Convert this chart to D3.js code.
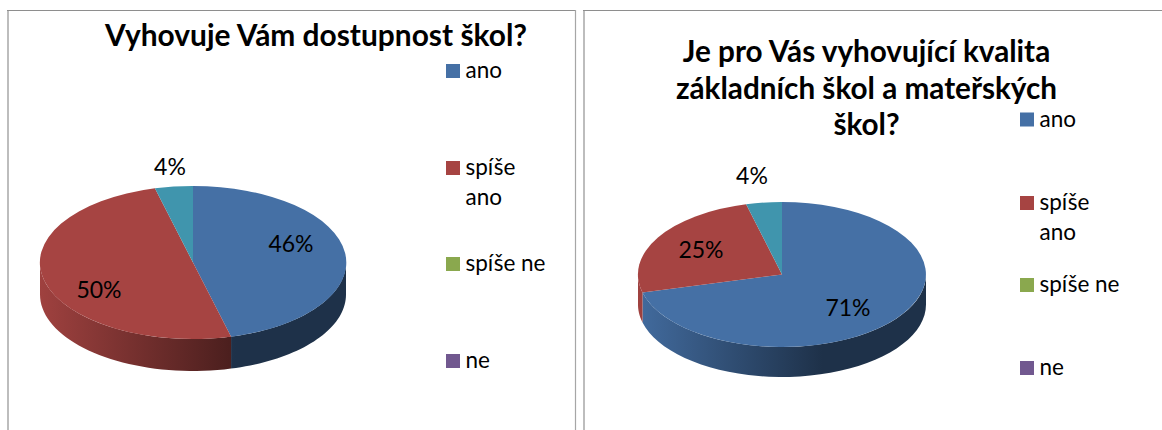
<!DOCTYPE html>
<html><head><meta charset="utf-8">
<script src="https://cdnjs.cloudflare.com/ajax/libs/d3/7.8.5/d3.min.js"></script>
<style>html,body{margin:0;padding:0;background:#fff}svg{display:block}text{font-family:Lato,"Open Sans",sans-serif;fill:#000}</style>
</head><body><svg width="1162" height="430"></svg>
<script>
const categories = ["ano", "spíše ano", "spíše ne", "ne"];
const colors = ["#4570a5", "#a64442", "#8aa84e", "#71588f", "#4095ad"];
const sliceCategories1 = [0, 1, 4];
const sliceCategories2 = [0, 1, 4];
const values1 = [46, 50, 4];
const values2 = [71, 25, 4];
const title1 = ["Vyhovuje Vám dostupnost škol?"];
const title2 = ["Je pro Vás vyhovující kvalita", "základních škol a mateřských", "škol?"];

const svg = d3.select("svg");
const defs = svg.append("defs");

function panel(o){
  const g = svg.append("g");
  // frame
  o.frame.forEach(f=>g.append("path").attr("d", d3.line()(f.p)).attr("fill","none").attr("stroke",f.c).attr("stroke-width",f.w));
  // title
  const t = g.append("g").attr("font-weight",700).attr("font-size",o.titleSize).attr("text-anchor","middle");
  o.title.forEach((s,i)=>t.append("text").attr("x",o.titleX).attr("y",o.titleY+i*o.titleLead).text(s));

  const pie = d3.pie().sort(null).value(d=>d.v);
  const arcs = pie(o.values.map((v,i)=>({v,c:o.cats[i]})));
  const px = a=>o.cx+o.rx*Math.sin(a), py=a=>o.cy-o.ry*Math.cos(a);
  const line = d3.line();

  // walls (visible between a=PI/2 and 3PI/2)
  arcs.forEach((d,i)=>{
    const a0=Math.max(d.startAngle,Math.PI/2), a1=Math.min(d.endAngle,3*Math.PI/2);
    if(a1<=a0) return;
    const id=`w${o.id}_${i}`, c=d3.color(colors[d.data.c]);
    const grad=defs.append("linearGradient").attr("id",id).attr("gradientUnits","userSpaceOnUse")
      .attr("x1",o.cx-o.rx).attr("x2",o.cx+o.rx).attr("y1",0).attr("y2",0);
    grad.append("stop").attr("offset",0).attr("stop-color",c.darker(0.12));
    grad.append("stop").attr("offset",0.64).attr("stop-color",c.darker(2.3));
    grad.append("stop").attr("offset",1).attr("stop-color",c.darker(2.3));
    const as=d3.range(0,41).map(k=>a0+(a1-a0)*k/40);
    const pts=as.map(a=>[px(a),py(a)]).concat(as.slice().reverse().map(a=>[px(a),py(a)+o.depth]));
    g.append("path").attr("d",line(pts)+"Z").attr("fill",`url(#${id})`);
  });
  // top faces
  const arc=d3.arc().innerRadius(0).outerRadius(1);
  arcs.forEach(d=>{
    g.append("path").attr("d",arc(d))
      .attr("transform",`translate(${o.cx},${o.cy}) scale(${o.rx},${o.ry})`)
      .attr("fill",colors[d.data.c]);
  });
  // value labels
  o.labels.forEach((l,i)=>{
    g.append("text").attr("x",l[0]).attr("y",l[1]).attr("font-size",o.labelSize).attr("text-anchor","middle").text(o.values[i]+"%");
  });
  // legend
  categories.forEach((c,i)=>{
    const y=o.legendY[i];
    g.append("rect").attr("x",o.legendX).attr("y",y-7).attr("width",14).attr("height",14).attr("fill",colors[i]);
    const parts = (c==="spíše ano") ? ["spíše","ano"] : [c];
    parts.forEach((p,k)=>g.append("text").attr("x",o.legendX+19.5).attr("y",y+7+k*30).attr("font-size",22.5).text(p));
  });
}

panel({id:1,frame:[{p:[[8,430],[8,11]],c:"#bdbdbd",w:2},{p:[[7,10.5],[576,10.5]],c:"#8e8e8e",w:1.2},{p:[[575.5,10],[575.5,430]],c:"#a6a6a6",w:1.2}],
  title:title1,titleX:316,titleY:46,titleLead:37,titleSize:29.9,
  values:values1,cats:sliceCategories1,cx:193,cy:262.5,rx:153,ry:76.5,depth:32,
  labels:[[291,252],[99,298],[170,175]],labelSize:23,legendX:446,legendY:[71,168,264,361]});
panel({id:2,frame:[{p:[[584,430],[584,11]],c:"#bdbdbd",w:2},{p:[[583,10.5],[1162,10.5]],c:"#8e8e8e",w:1.2}],
  title:title2,titleX:866.5,titleY:62,titleLead:36.5,titleSize:29.7,
  values:values2,cats:sliceCategories2,cx:782,cy:274.5,rx:144,ry:72.5,depth:30,
  labels:[[848,316],[701,258],[752,184]],labelSize:23,legendX:1020,legendY:[119.5,203,285,368]});
</script></body></html>
